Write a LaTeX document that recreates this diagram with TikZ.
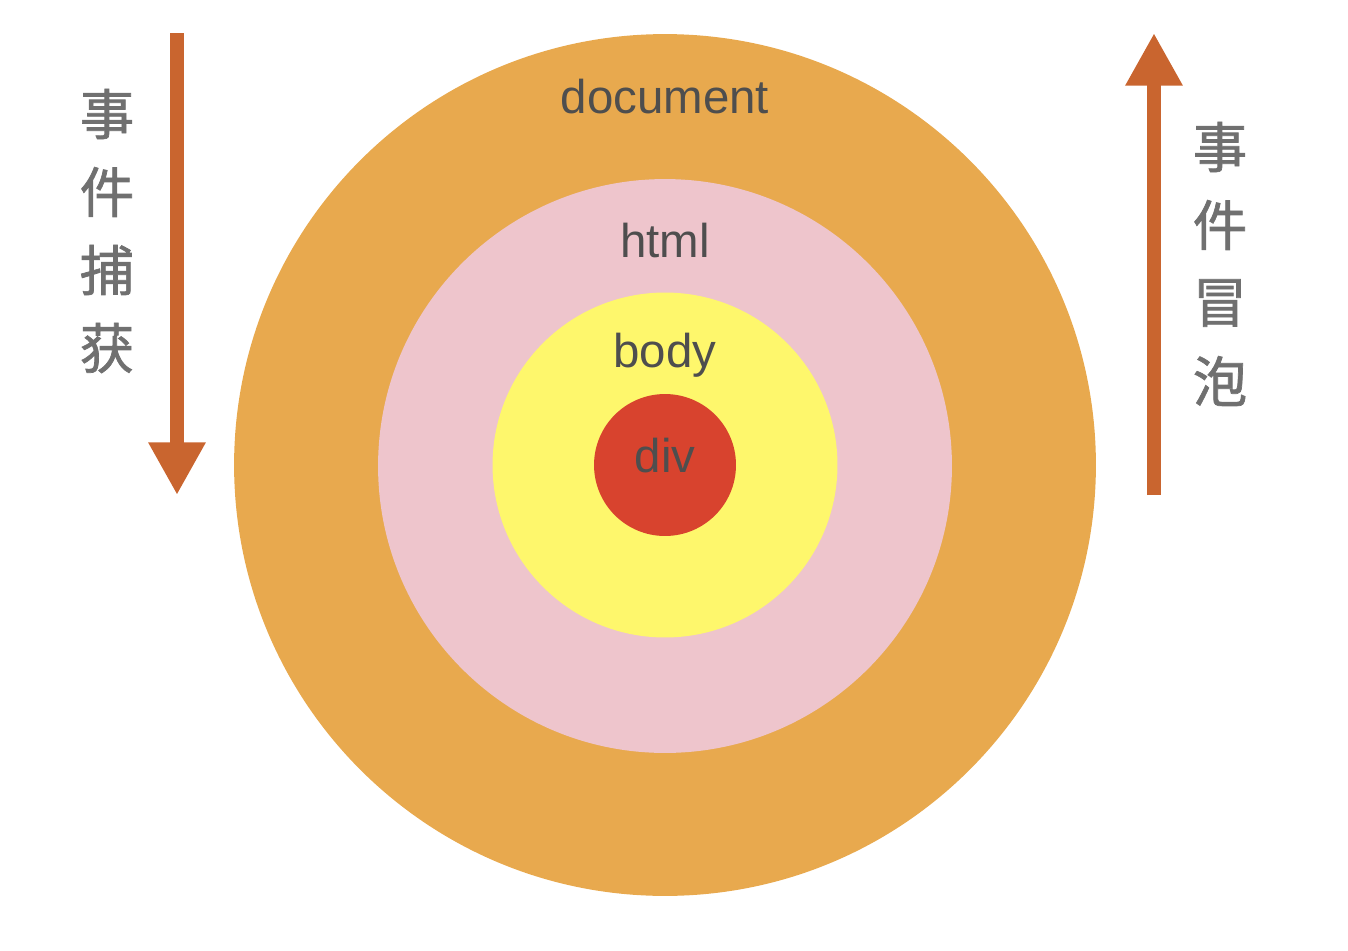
\documentclass[tikz,border=0pt]{standalone}
\usepackage{fontspec}
\setmainfont{Liberation Sans}
\newfontfamily\cjk[FakeBold=1.3]{Noto Sans CJK SC}
\usetikzlibrary{arrows.meta}
\definecolor{docorange}{HTML}{E8A94E}
\definecolor{htmlpink}{HTML}{EEC5CC}
\definecolor{bodyyellow}{HTML}{FEF76C}
\definecolor{divred}{HTML}{D8432E}
\definecolor{arrowbrown}{HTML}{C9652F}
\definecolor{labelgray}{HTML}{4E4E4E}
\definecolor{cjkgray}{HTML}{707070}
\tikzset{>={Triangle[length=30pt,width=30.6pt]},
  ring/.style={circle, inner sep=0pt, outer sep=0pt},
  tag/.style={text=labelgray, font=\fontsize{27}{27}\selectfont},
  hanzi/.style={text=cjkgray, font=\cjk\fontsize{31}{31}\selectfont},
  flow/.style={->, arrowbrown, line width=8pt}}

\begin{document}
\begin{tikzpicture}[x=0.02cm, y=-0.02cm]
    \useasboundingbox (0,0) rectangle (1348,950);
    \node[ring, fill=docorange, minimum size=17.24cm] (doc) at (665,465) {};
    \node[ring, fill=htmlpink, minimum size=11.48cm] (html) at (665,466) {};
    \node[ring, fill=bodyyellow, minimum size=6.9cm] (body) at (665,465) {};
    \node[ring, fill=divred, minimum size=2.84cm] (div) at (665,465) {};
    \node[tag] (doclabel) at (665,97) {document};
    \node[tag] (htmllabel) at (665,240) {html};
    \node[tag] (bodylabel) at (665,355) {body};
    \node[tag] (divlabel) at (665,456) {div};
    % capture goes down, bubbling goes up
    \coordinate (captop) at (177,33);
    \coordinate (capend) at (177,495);
    \coordinate (bubstart) at (1154,495);
    \coordinate (bubtop) at (1154,33);
    \draw[flow] (captop) -- (capend);
    \draw[flow] (bubstart) -- (bubtop);
    \foreach \c [count=\i] in {事,件,捕,获}
    \node[hanzi] (cap\i) at (107,{36+78*\i}) {\c};
    \foreach \c [count=\i] in {事,件,冒,泡}
    \node[hanzi] (bub\i) at (1220,{69+78*\i}) {\c};
\end{tikzpicture}
\end{document}
